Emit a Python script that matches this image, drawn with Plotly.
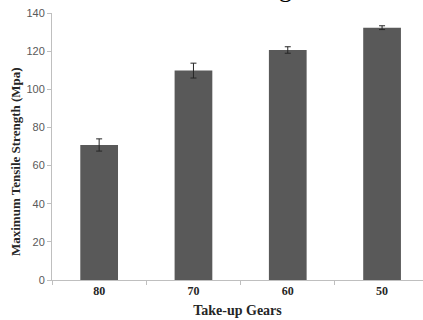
import plotly.graph_objects as go

categories = ["80", "70", "60", "50"]
strength = [70.8, 109.8, 120.6, 132.3]
errors = [3.2, 3.9, 1.7, 1.0]

fig = go.Figure()
fig.add_trace(go.Bar(
    x=categories, y=strength, width=0.4,
    marker=dict(color="#595959", line=dict(width=0)),
    error_y=dict(type="data", array=errors, visible=True,
                 color="#262626", thickness=1, width=3),
))

fig.update_layout(
    width=423, height=320,
    margin=dict(l=52, r=0, t=13, b=40),
    plot_bgcolor="white", paper_bgcolor="white",
    showlegend=False,
    bargap=0.6,
)
fig.update_xaxes(
    type="category", range=[-0.5, 3.434],
    showline=True, linecolor="#bfbfbf", linewidth=1,
    ticks="outside", tickson="boundaries", ticklen=4, tickcolor="#bfbfbf",
    tickfont=dict(family="Liberation Serif", size=12, color="#262626"),
    tickprefix="<b>", ticksuffix="</b>",
    title=dict(text="<b>Take-up Gears</b>", font=dict(family="Liberation Serif", size=14, color="#262626"), standoff=7),
    showgrid=False,
)
fig.update_yaxes(
    range=[0, 140], dtick=20,
    showline=True, linecolor="#bfbfbf", linewidth=1,
    ticks="outside", ticklen=4, tickcolor="#bfbfbf",
    tickfont=dict(family="Liberation Sans", size=11, color="#595959"),
    showgrid=False, zeroline=False,
)
# y-axis title placed as annotation (reference title sits slightly below axis centre)
fig.add_annotation(
    text="<b>Maximum Tensile Strength (Mpa)</b>", textangle=-90,
    xref="paper", yref="paper", x=-0.0997, y=(280 - 162) / 267,
    xanchor="center", yanchor="middle", showarrow=False,
    font=dict(family="Liberation Serif", size=13, color="#262626"),
)
# clipped chart title at the top edge
fig.add_annotation(
    text="Tensile Strength", xref="paper", yref="paper",
    x=0.706, y=1.029, xanchor="right", yanchor="bottom",
    showarrow=False, font=dict(family="Liberation Serif", size=26, color="black"),
)
fig.write_html("out.html")
